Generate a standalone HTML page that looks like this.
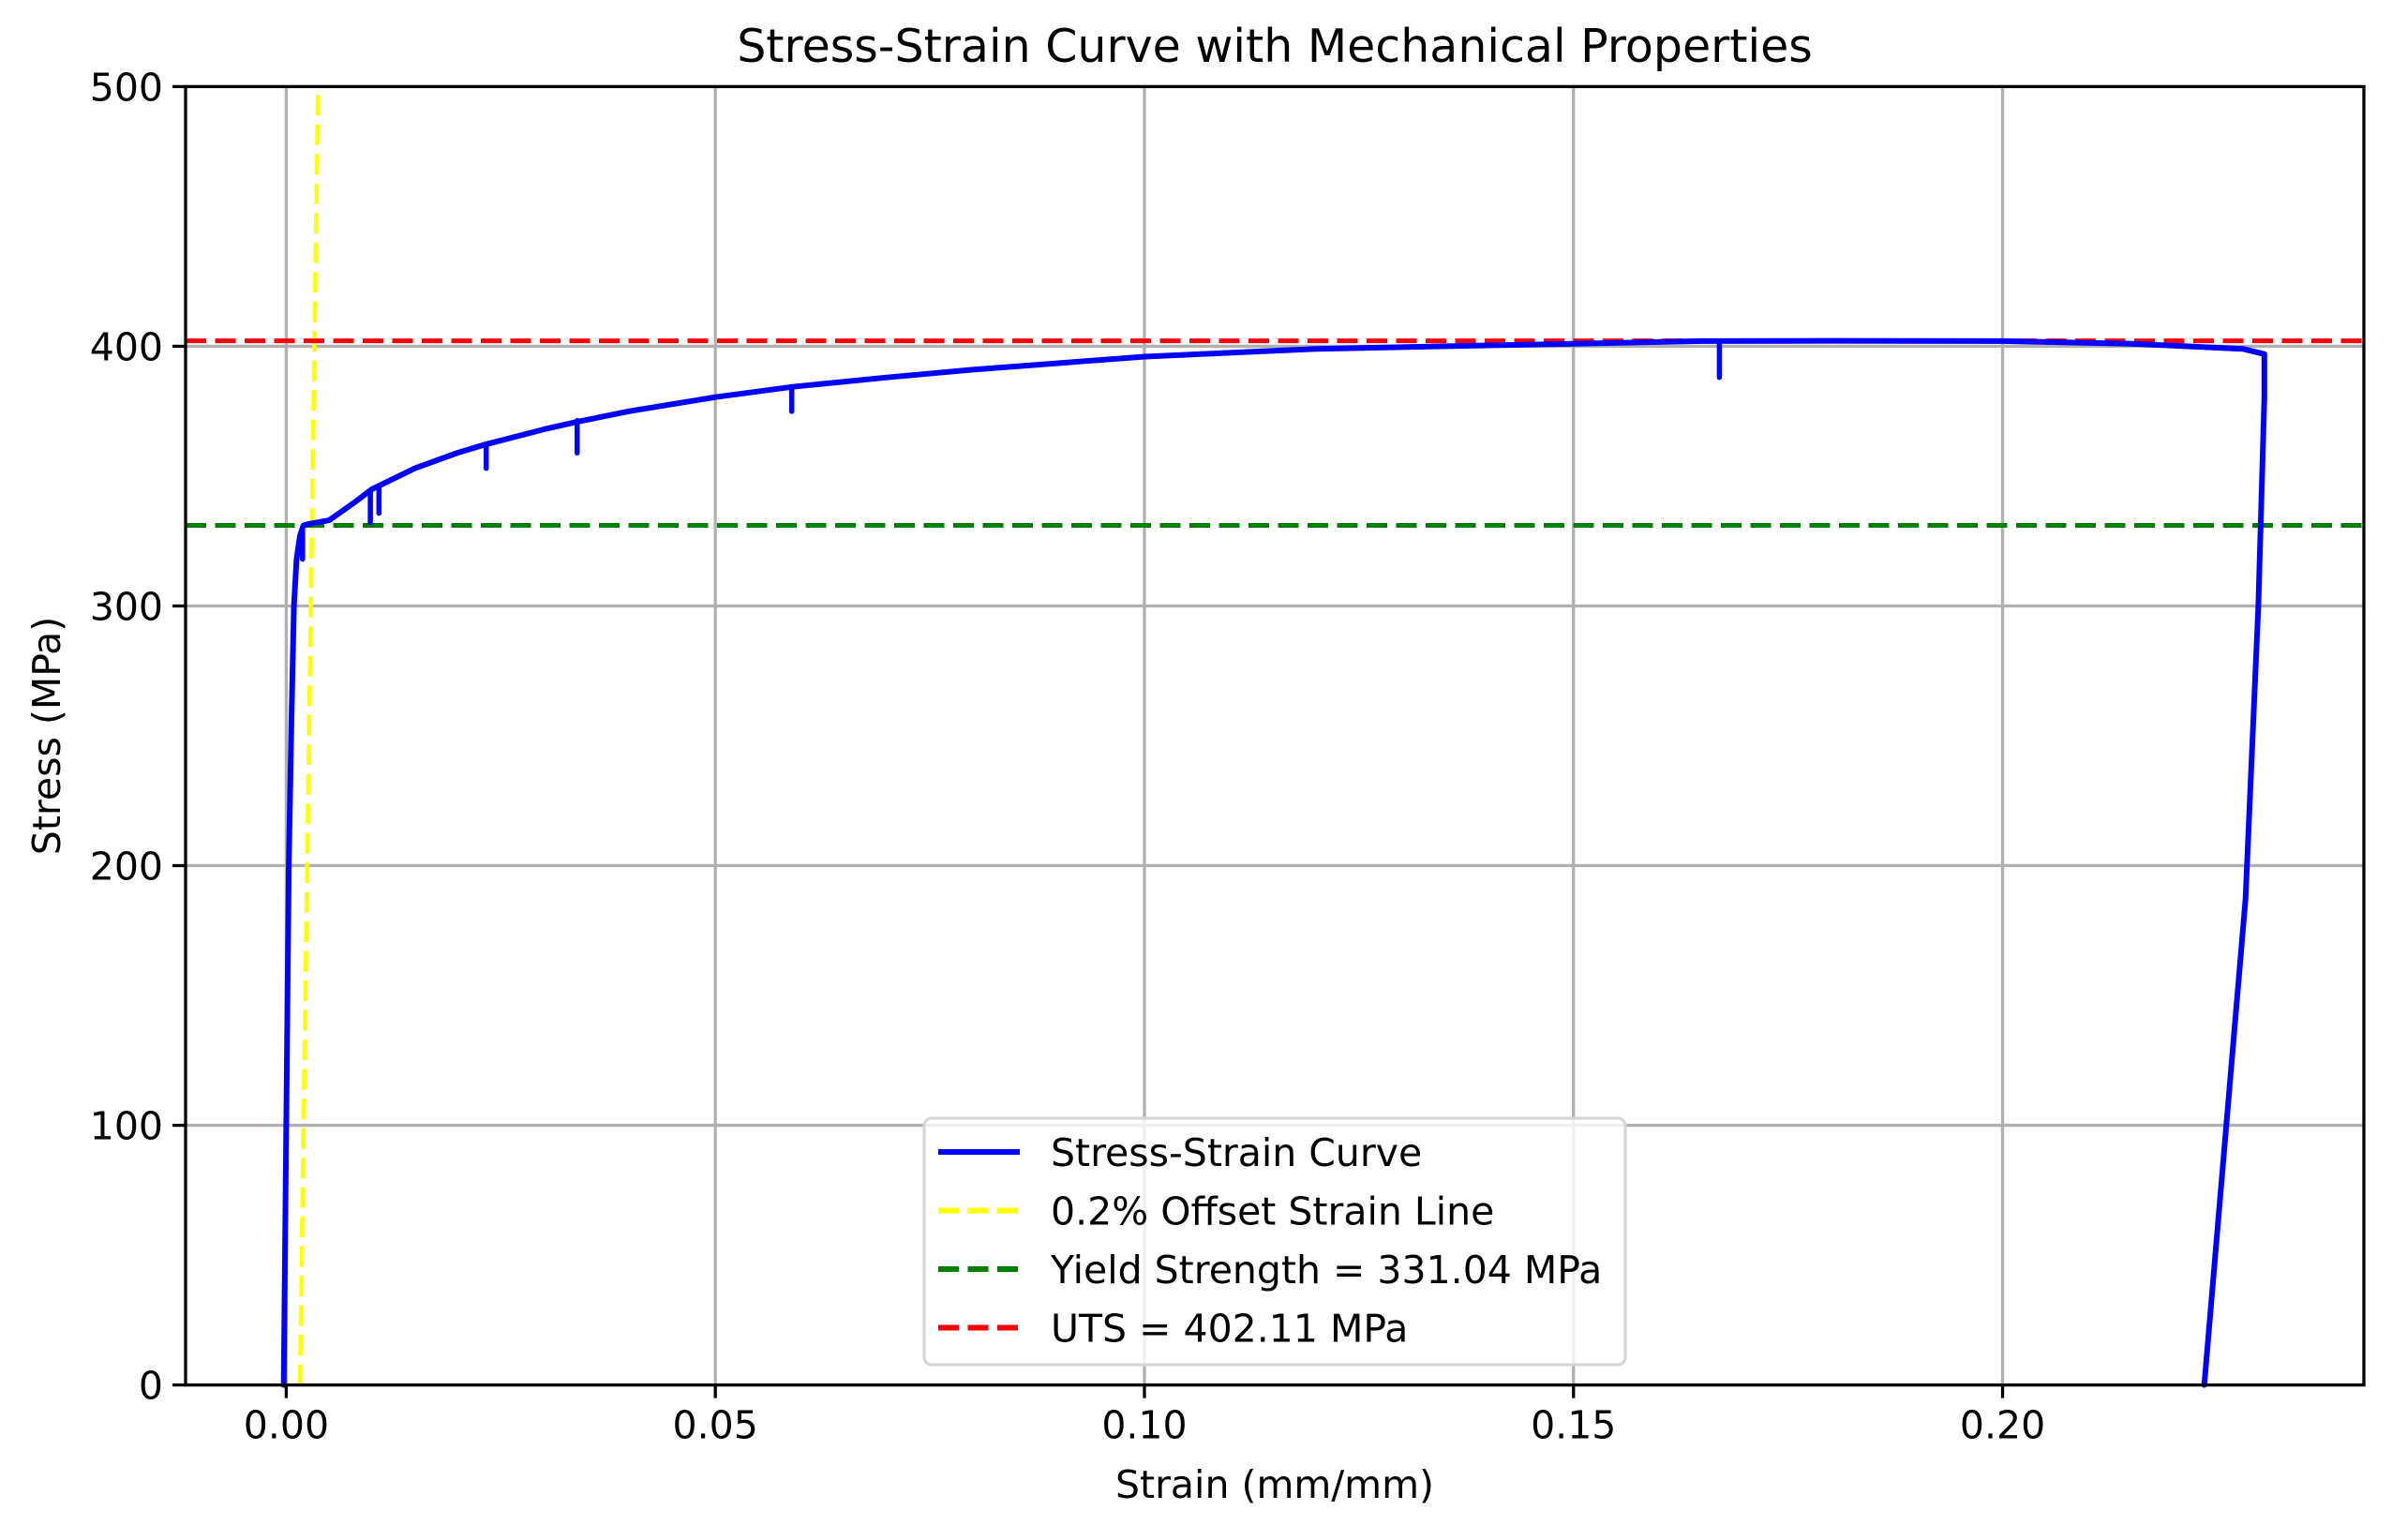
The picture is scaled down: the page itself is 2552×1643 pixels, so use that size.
<!DOCTYPE html>
<html><head><meta charset="utf-8"><style>
html,body{margin:0;padding:0;background:#fff;}
svg text{font-family:"DejaVu Sans","Liberation Sans",sans-serif;fill:#000;}
</style></head><body>
<svg id="chart" width="2552" height="1638" viewBox="0 0 2552 1638" xmlns="http://www.w3.org/2000/svg">
<rect width="2552" height="1638" fill="#fff"/>
<g id="grid"></g>
<g id="series"></g>
<g id="axes"></g>
<g id="legend"></g>
</svg>
<script>
const curveStrain=[-0.0003,0,0.0003,0.0006,0.0009,0.0012,0.0016,0.0020,0.0025,0.005,0.008,0.01,0.015,0.02,0.023,0.03,0.034,0.04,0.05,0.059,0.07,0.08,0.1,0.12,0.15,0.165,0.18,0.2,0.215,0.228,0.2305,0.2305,0.2298,0.2283,0.2235];
const curveStress=[0,100,200,255,300,318,327,331,331.5,333,340,345,353,359,362,368,371,375,380.4,384.4,388,391,396,399,401,402,402.1,402,401,399,397,380,300,187,0];
const spikeStrain=[0.0019,0.0098,0.0108,0.0233,0.0339,0.0589,0.167];
const spikeTop=[329,344,345.5,362.4,371.4,384.4,402];
const spikeBottom=[318,332,335.7,353,358.9,374.9,388];
const offsetStrain=[0.0016,0.0037];
const offsetStress=[0,500];
const yieldStrength=331.04;
const uts=402.11;
const xTicks=[0,0.05,0.10,0.15,0.20];
const xTickLabels=["0.00","0.05","0.10","0.15","0.20"];
const yTicks=[0,100,200,300,400,500];
const yTickLabels=["0","100","200","300","400","500"];
const legendLabels=["Stress-Strain Curve","0.2% Offset Strain Line","Yield Strength = 331.04 MPa","UTS = 402.11 MPa"];

const L=198,R=2522,T=92.4,B=1477.6;
const xMin=-0.01173,xMax=0.2421,yMin=0,yMax=500;
const sx=v=>L+(v-xMin)/(xMax-xMin)*(R-L);
const sy=v=>B-(v-yMin)/(yMax-yMin)*(B-T);
const NS="http://www.w3.org/2000/svg";
function mk(tag,attrs,parent){const e=document.createElementNS(NS,tag);for(const k in attrs)e.setAttribute(k,attrs[k]);parent.appendChild(e);return e;}
const grid=document.getElementById('grid'),series=document.getElementById('series'),axes=document.getElementById('axes'),legend=document.getElementById('legend');

xTicks.forEach((t,i)=>{
  const g=mk('line',{x1:sx(t),x2:sx(t),y1:T,y2:B,stroke:'#b0b0b0','stroke-width':3.3},grid);
  
  
  const tk=mk('line',{x1:sx(t),x2:sx(t),y1:B,y2:B+14,stroke:'#000','stroke-width':3.3},axes);
  
  
  const tx=mk('text',{x:sx(t),y:B+57,'text-anchor':'middle','font-size':41},axes);
  tx.textContent=xTickLabels[i];
  
  
});
yTicks.forEach((t,i)=>{
  const g=mk('line',{x1:L,x2:R,y1:sy(t),y2:sy(t),stroke:'#b0b0b0','stroke-width':3.3},grid);
  
  
  const tk=mk('line',{x1:L-14,x2:L,y1:sy(t),y2:sy(t),stroke:'#000','stroke-width':3.3},axes);
  
  
  const tx=mk('text',{x:L-24,y:sy(t)+15,'text-anchor':'end','font-size':41},axes);
  tx.textContent=yTickLabels[i];
  
  
});

const yl=mk('line',{x1:sx(offsetStrain[0]),y1:sy(offsetStress[0]),x2:sx(offsetStrain[1]),y2:sy(offsetStress[1]),stroke:'#ffff00','stroke-width':4.5,'stroke-dasharray':'22 9.5'},series);


const gl=mk('line',{x1:L,x2:R,y1:sy(yieldStrength),y2:sy(yieldStrength),stroke:'#008000','stroke-width':5,'stroke-dasharray':'22 9.5'},series);


const rl=mk('line',{x1:L,x2:R,y1:sy(uts),y2:sy(uts),stroke:'#ff0000','stroke-width':5,'stroke-dasharray':'22 9.5'},series);



const pts=curveStrain.map((s,i)=>sx(s).toFixed(1)+','+sy(curveStress[i]).toFixed(1)).join(' ');
const cv=mk('polyline',{points:pts,fill:'none',stroke:'#0000ff','stroke-width':6,'stroke-linejoin':'round','stroke-linecap':'round'},series);


spikeStrain.forEach((s,i)=>{
  const sp=mk('line',{x1:sx(s),x2:sx(s),y1:sy(spikeTop[i]),y2:sy(spikeBottom[i]),stroke:'#0000ff','stroke-width':5.5,'stroke-linecap':'round'},series);
  
  
});

const frame=mk('rect',{x:L,y:T,width:R-L,height:B-T,fill:'none',stroke:'#000','stroke-width':3.3},axes);


const title=mk('text',{x:(L+R)/2,y:66,'text-anchor':'middle','font-size':49},axes);
title.textContent='Stress-Strain Curve with Mechanical Properties';


const xl=mk('text',{x:(L+R)/2,y:1598,'text-anchor':'middle','font-size':41},axes);
xl.textContent='Strain (mm/mm)';


const ylab=mk('text',{x:0,y:0,'text-anchor':'middle','font-size':41,transform:'translate(64,'+((T+B)/2)+') rotate(-90)'},axes);
ylab.textContent='Stress (MPa)';



const lb=mk('rect',{x:986,y:1193,width:748,height:263,rx:8,fill:'#fff','fill-opacity':0.8,stroke:'#d6d6d6','stroke-width':3.3},legend);


const lc=['#0000ff','#ffff00','#008000','#ff0000'];
const ldash=['','22 9.5','22 9.5','22 9.5'];
legendLabels.forEach((t,i)=>{
  const y=1229+i*62.5;
  const a={x1:1001,x2:1088,y1:y,y2:y,stroke:lc[i],'stroke-width':6};
  if(ldash[i])a['stroke-dasharray']=ldash[i];
  const ln=mk('line',a,legend);
  
  
  const tx=mk('text',{x:1121,y:y+15,'font-size':41},legend);
  tx.textContent=t;
  
  
});
</script>
</body></html>
